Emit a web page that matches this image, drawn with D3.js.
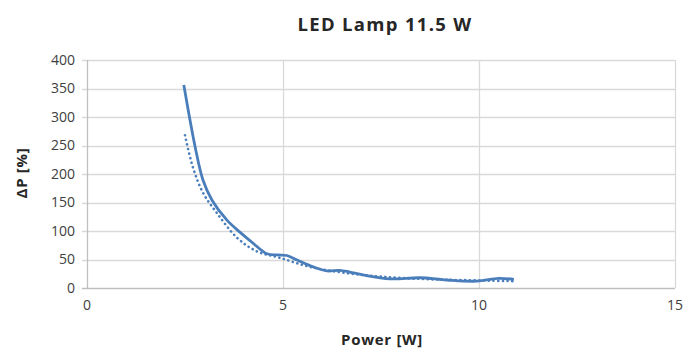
<!DOCTYPE html>
<html>
<head>
<meta charset="utf-8">
<script src="https://cdn.jsdelivr.net/npm/d3@7"></script>
<style>
  html, body { margin: 0; padding: 0; background: #fff; }
  svg { display: block; font-family: 'Open Sans', sans-serif; }
</style>
</head>
<body>
<svg id="chart" width="689" height="349"></svg>
<script>
// measured curve (solid)
const powerW = [2.47, 2.76, 2.96, 3.19, 3.57, 3.9, 4.23, 4.59, 4.87, 5.1, 5.36, 5.77, 6.12, 6.45, 6.7, 7.04, 7.73, 8.5, 9.18, 9.95, 10.5, 10.89]
const deltaP = [356, 247, 189, 154, 119, 98, 79, 60, 58, 57, 49, 37, 30, 31, 28, 23, 16, 18, 14, 12, 17, 15]

// trend curve (dotted)
const trendW = [2.5, 2.7, 2.96, 3.32, 3.83, 4.34, 4.92, 5.69, 6.63, 7.5, 8.5, 9.5, 10.89]
const trendP = [268, 212, 167, 131, 88, 64, 53, 37, 26, 20, 16, 14, 12]

const xTicks = [0, 5, 10, 15]
const yTicks = [0, 50, 100, 150, 200, 250, 300, 350, 400]

const MARGIN = { top: 60, right: 14, bottom: 61, left: 87 }
const W = 689, H = 349
const cW = W - MARGIN.left - MARGIN.right
const cH = H - MARGIN.top - MARGIN.bottom

const svg = d3.select('#chart')
const g = svg.append('g').attr('transform', `translate(${MARGIN.left},${MARGIN.top})`)

const x = d3.scaleLinear().domain([0, 15]).range([0, cW])
const y = d3.scaleLinear().domain([0, 400]).range([cH, 0])

// grid
g.append('g').selectAll('line.hg').data(yTicks.slice(1)).enter().append('line')
  .attr('x1', -5).attr('x2', cW)
  .attr('y1', d => Math.round(y(d)) + 0.5).attr('y2', d => Math.round(y(d)) + 0.5)
  .attr('stroke', '#d9d9d9').attr('stroke-width', 1.3)
g.append('g').selectAll('line.vg').data(xTicks.slice(1)).enter().append('line')
  .attr('y1', 0).attr('y2', cH)
  .attr('x1', d => Math.round(x(d)) + 0.5).attr('x2', d => Math.round(x(d)) + 0.5)
  .attr('stroke', '#d9d9d9').attr('stroke-width', 1.3)

// axes lines
g.append('line').attr('x1', 0.5).attr('x2', 0.5).attr('y1', 0).attr('y2', cH)
  .attr('stroke', '#bfbfbf').attr('stroke-width', 1.3)
g.append('line').attr('x1', -5).attr('x2', cW).attr('y1', cH + 0.5).attr('y2', cH + 0.5)
  .attr('stroke', '#bfbfbf').attr('stroke-width', 1.3)

// tick labels
g.append('g').selectAll('text').data(yTicks).enter().append('text')
  .attr('x', -12).attr('y', d => y(d)).attr('dy', '0.35em')
  .attr('text-anchor', 'end').attr('font-size', 14).attr('fill', '#404040')
  .text(d => d)
g.append('g').selectAll('text').data(xTicks).enter().append('text')
  .attr('x', d => x(d)).attr('y', cH + 22)
  .attr('text-anchor', 'middle').attr('font-size', 14).attr('fill', '#404040')
  .text(d => d)

// series
const line = d3.line().curve(d3.curveCatmullRom.alpha(0.5))
  .x(d => x(d[0])).y(d => y(d[1]))

g.append('path')
  .datum(trendW.map((v, i) => [v, trendP[i]]))
  .attr('d', line).attr('fill', 'none')
  .attr('stroke', '#4a7ebb').attr('stroke-width', 2.6)
  .attr('stroke-dasharray', '0.1 4.6').attr('stroke-linecap', 'round')

g.append('path')
  .datum(powerW.map((v, i) => [v, deltaP[i]]))
  .attr('d', line).attr('fill', 'none')
  .attr('stroke', '#4a7ebb').attr('stroke-width', 2.8)
  .attr('stroke-linejoin', 'round')

// titles
svg.append('text').attr('x', 385).attr('y', 31).attr('text-anchor', 'middle')
  .attr('font-size', 18.5).attr('font-weight', 'bold').attr('fill', '#262626')
  .attr('letter-spacing', 1.3)
  .text('LED Lamp 11.5 W')
svg.append('text').attr('x', 382).attr('y', 345).attr('text-anchor', 'middle')
  .attr('font-size', 15).attr('font-weight', 'bold').attr('fill', '#262626')
  .attr('letter-spacing', 0.7)
  .text('Power [W]')
svg.append('text').attr('transform', 'translate(27,173) rotate(-90)').attr('text-anchor', 'middle')
  .attr('font-size', 15).attr('font-weight', 'bold').attr('fill', '#262626')
  .attr('letter-spacing', 0.7)
  .text('ΔP [%]')
</script>
</body>
</html>
